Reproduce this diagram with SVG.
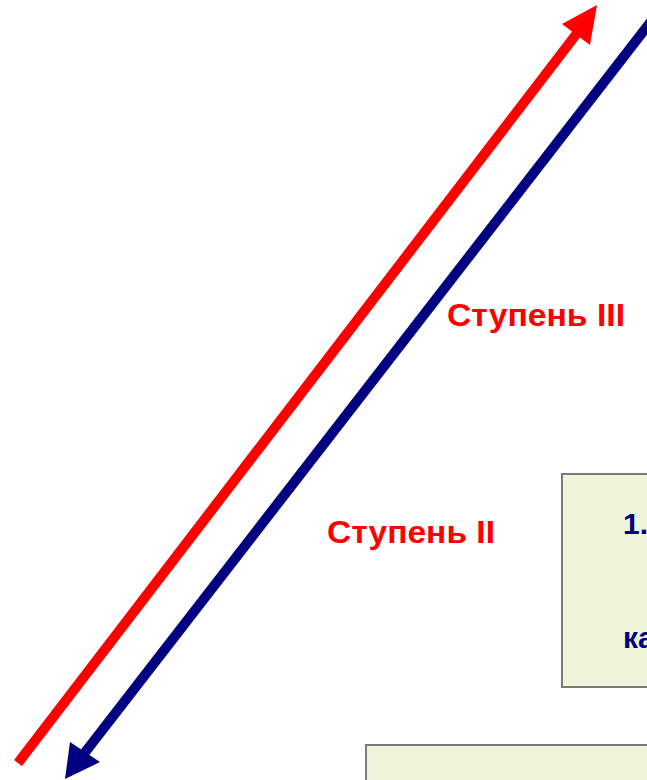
<svg xmlns="http://www.w3.org/2000/svg" width="647" height="780" viewBox="0 0 647 780">
  <style>
    .box { fill: #EFF5DA; stroke: #7A7A7A; stroke-width: 2; }
    .stage { font-family: "Liberation Sans", Arial, sans-serif; font-weight: bold; font-size: 32px; fill: #FF0000; }
    .item { font-family: "Liberation Sans", Arial, sans-serif; font-weight: bold; font-size: 30px; fill: #000080; }
    .up { stroke: #FF0000; stroke-width: 10; fill: none; }
    .down { stroke: #000080; stroke-width: 10; fill: none; }
  </style>

  <rect width="647" height="780" fill="#FFFFFF"/>

  <!-- connectors: rising and falling arrows -->
  <g id="connectors">
    <line class="up" x1="18" y1="763" x2="578" y2="32"/>
    <polygon points="597,5 562,24 590,45" fill="#FF0000"/>
    <line class="down" x1="680" y1="-16" x2="83" y2="755"/>
    <polygon points="65,779 70,742 100,762" fill="#000080"/>
  </g>

  <g id="stage3">
    <text class="stage" x="447" y="326" textLength="178" lengthAdjust="spacingAndGlyphs">Ступень III</text>
  </g>

  <g id="stage2">
    <text class="stage" x="327" y="543" textLength="168" lengthAdjust="spacingAndGlyphs">Ступень II</text>
  </g>

  <g id="item1">
    <rect class="box" x="562" y="474" width="100" height="213"/>
    <text class="item" x="623" y="534">1.</text>
    <text class="item" x="623" y="648">ка</text>
  </g>

  <g id="item2">
    <rect class="box" x="366" y="745" width="300" height="50"/>
  </g>
</svg>
